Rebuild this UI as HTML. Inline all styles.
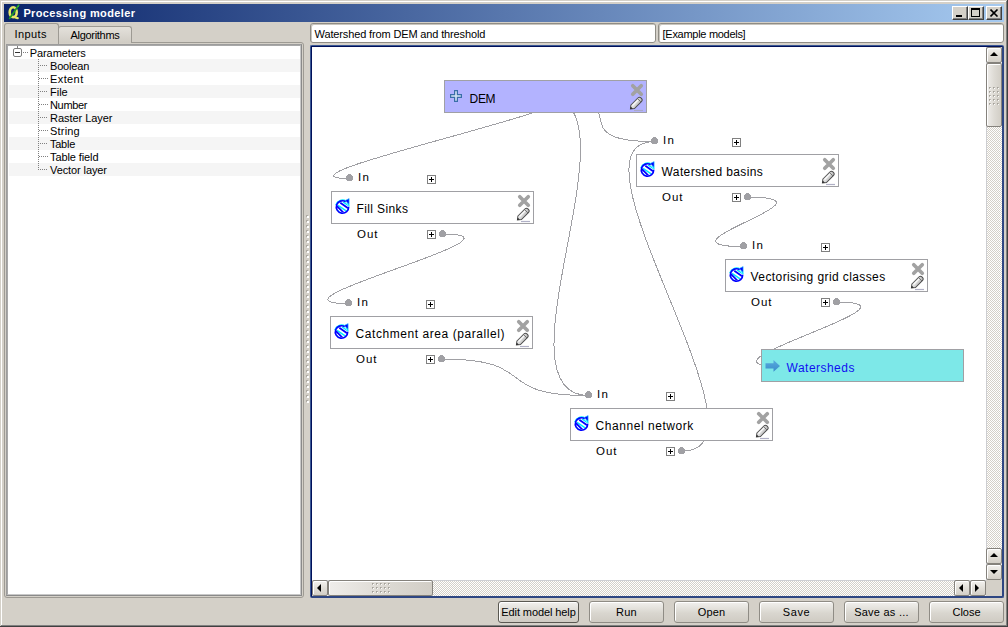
<!DOCTYPE html>
<html><head><meta charset="utf-8"><title>Processing modeler</title>
<style>
*{margin:0;padding:0;box-sizing:border-box}
html,body{width:1008px;height:627px;overflow:hidden}
body{background:#D4D0C8;font:11px "Liberation Sans",sans-serif;color:#000;position:relative}
.a{position:absolute}
.t{position:absolute;white-space:pre;line-height:13px}
.cb{position:absolute;width:16px;height:14px;background:#D4D0C8;border-top:1px solid #fff;border-left:1px solid #fff;border-right:1px solid #404040;border-bottom:1px solid #404040;box-shadow:inset -1px -1px 0 #808080}
.btn{position:absolute;top:601px;height:22px;width:75px;border:1px solid #8f8c85;border-radius:3px;background:linear-gradient(#f2f1ee,#d9d6cf 55%,#cfcbc3);box-shadow:inset 1px 1px 0 #fff;text-align:center;line-height:20px}
.row{position:absolute;left:9px;width:291px;height:13px}
.alt{background:#F5F5F5}
.chk{background:repeating-conic-gradient(#D4D0C8 0 25%,#fff 0 50%) 0 0/2px 2px}
.sb{position:absolute;width:16px;height:16px;border:1px solid #85827c;border-radius:2px;background:linear-gradient(#f3f2ef,#e2dfd9 50%,#d3cfc7);box-shadow:inset 1px 1px 0 #fff}
.sl{background:linear-gradient(to right,#efedea,#dedbd5 50%,#d2cec6)}
.tri{position:absolute;width:0;height:0;border:solid transparent}
.tri.up{left:3px;top:4px;border-width:0 4px 4px;border-bottom-color:#000}
.tri.dn{left:3px;top:5px;border-width:4px 4px 0;border-top-color:#000}
.tri.lf{left:4px;top:3px;border-width:4px 4px 4px 0;border-right-color:#000}
.tri.rt{left:4px;top:3px;border-width:4px 0 4px 4px;border-left-color:#000}
.grip{position:absolute;background:radial-gradient(circle at 0.5px 0.5px,#9a978f 0.7px,transparent 0.8px) 0 0/2px 2px}
</style></head><body>
<!-- window frame -->
<div class="a" style="left:1px;top:1px;width:1005px;height:1px;background:#fff"></div>
<div class="a" style="left:1px;top:1px;width:1px;height:624px;background:#fff"></div>
<div class="a" style="left:1006px;top:1px;width:1px;height:625px;background:#808080"></div>
<div class="a" style="left:1px;top:625px;width:1006px;height:1px;background:#808080"></div>
<div class="a" style="left:1007px;top:0;width:1px;height:627px;background:#404040"></div>
<div class="a" style="left:0;top:626px;width:1008px;height:1px;background:#404040"></div>
<!-- title bar -->
<div class="a" style="left:4px;top:4px;width:1000px;height:18px;background:linear-gradient(to right,#0A246A,#A6CAF0)"></div>
<svg class="a" style="left:0;top:0" width="24" height="22" viewBox="0 0 24 22">
  <ellipse cx="13.2" cy="12.2" rx="3.5" ry="4.9" fill="none" stroke="#E6E868" stroke-width="2.6"/>
  <path d="M13.8 16.4 Q15.5 18.6 18.6 18" fill="none" stroke="#E6E868" stroke-width="2"/>
  <path d="M18.6 5.2 L9.6 18.4" stroke="#1F9B23" stroke-width="1.7" stroke-linecap="round"/>
  <path d="M18.8 5.6 L17.6 7.2" stroke="#4CCB4C" stroke-width="1"/>
</svg>
<div class="t" style="left:23.4px;top:7px;color:#fff;font-weight:bold;font-size:11px;letter-spacing:0.38px">Processing modeler</div>
<!-- caption buttons -->
<div class="cb" style="left:952px;top:6px"><div class="a" style="left:3px;top:8px;width:6px;height:2px;background:#000"></div></div>
<div class="cb" style="left:968px;top:6px"><div class="a" style="left:2px;top:1px;width:9px;height:9px;border:1px solid #000;border-top-width:2px"></div></div>
<div class="cb" style="left:986px;top:6px">
  <svg class="a" style="left:3px;top:2px" width="9" height="8" viewBox="0 0 9 8"><path d="M0.5 0.5 L7.5 7.5 M7.5 0.5 L0.5 7.5" stroke="#000" stroke-width="1.6"/></svg>
</div>

<!-- tab widget -->
<div class="a" style="left:4px;top:42px;width:300px;height:556px;border:1px solid #9d9a93;border-radius:0 3px 3px 3px"></div>
<div class="a" style="left:58px;top:26px;width:74px;height:17px;border:1px solid #9d9a93;border-bottom:none;border-radius:3px 3px 0 0;background:linear-gradient(#e4e1db,#d0ccc4)"></div>
<div class="a" style="left:4px;top:23px;width:55px;height:21px;border:1px solid #9d9a93;border-bottom:none;border-radius:3px 3px 0 0;background:#D4D0C8"></div>
<div class="t" style="left:14.6px;top:28px;letter-spacing:0.4px">Inputs</div>
<div class="t" style="left:70.5px;top:29px;letter-spacing:-0.3px">Algorithms</div>
<!-- tree -->
<div class="a" style="left:6px;top:44px;width:296px;height:552px;border:1px solid #9c9c9c;border-right-color:#8a8a8a;border-bottom-color:#8a8a8a;background:#fff"></div>
<div class="a" style="left:7px;top:45px;width:294px;height:550px;border:1px solid #a8a8a8;border-right-color:#c8c8c8;border-bottom-color:#c8c8c8"></div>
<div class="row alt" style="top:59px"></div>
<div class="row alt" style="top:85px"></div>
<div class="row alt" style="top:111px"></div>
<div class="row alt" style="top:137px"></div>
<div class="row alt" style="top:163px"></div>
<!-- expander -->
<div class="a" style="left:13px;top:48px;width:9px;height:9px;border:1px solid #7b7b7b;border-radius:2px;background:#fff"></div>
<div class="a" style="left:15px;top:52px;width:5px;height:1px;background:#333"></div>
<div class="a" style="left:17px;top:46px;width:1px;height:2px;background:#7b7b7b"></div>
<svg class="a" style="left:0;top:0" width="60" height="180" viewBox="0 0 60 180" shape-rendering="crispEdges" fill="#808080"><rect x="17" y="46" width="1" height="1"/><rect x="17" y="47" width="1" height="1"/><rect x="23" y="52" width="1" height="1"/><rect x="25" y="52" width="1" height="1"/><rect x="27" y="52" width="1" height="1"/><rect x="38" y="59" width="1" height="1"/><rect x="38" y="61" width="1" height="1"/><rect x="38" y="63" width="1" height="1"/><rect x="38" y="65" width="1" height="1"/><rect x="38" y="67" width="1" height="1"/><rect x="38" y="69" width="1" height="1"/><rect x="38" y="71" width="1" height="1"/><rect x="38" y="73" width="1" height="1"/><rect x="38" y="75" width="1" height="1"/><rect x="38" y="77" width="1" height="1"/><rect x="38" y="79" width="1" height="1"/><rect x="38" y="81" width="1" height="1"/><rect x="38" y="83" width="1" height="1"/><rect x="38" y="85" width="1" height="1"/><rect x="38" y="87" width="1" height="1"/><rect x="38" y="89" width="1" height="1"/><rect x="38" y="91" width="1" height="1"/><rect x="38" y="93" width="1" height="1"/><rect x="38" y="95" width="1" height="1"/><rect x="38" y="97" width="1" height="1"/><rect x="38" y="99" width="1" height="1"/><rect x="38" y="101" width="1" height="1"/><rect x="38" y="103" width="1" height="1"/><rect x="38" y="105" width="1" height="1"/><rect x="38" y="107" width="1" height="1"/><rect x="38" y="109" width="1" height="1"/><rect x="38" y="111" width="1" height="1"/><rect x="38" y="113" width="1" height="1"/><rect x="38" y="115" width="1" height="1"/><rect x="38" y="117" width="1" height="1"/><rect x="38" y="119" width="1" height="1"/><rect x="38" y="121" width="1" height="1"/><rect x="38" y="123" width="1" height="1"/><rect x="38" y="125" width="1" height="1"/><rect x="38" y="127" width="1" height="1"/><rect x="38" y="129" width="1" height="1"/><rect x="38" y="131" width="1" height="1"/><rect x="38" y="133" width="1" height="1"/><rect x="38" y="135" width="1" height="1"/><rect x="38" y="137" width="1" height="1"/><rect x="38" y="139" width="1" height="1"/><rect x="38" y="141" width="1" height="1"/><rect x="38" y="143" width="1" height="1"/><rect x="38" y="145" width="1" height="1"/><rect x="38" y="147" width="1" height="1"/><rect x="38" y="149" width="1" height="1"/><rect x="38" y="151" width="1" height="1"/><rect x="38" y="153" width="1" height="1"/><rect x="38" y="155" width="1" height="1"/><rect x="38" y="157" width="1" height="1"/><rect x="38" y="159" width="1" height="1"/><rect x="38" y="161" width="1" height="1"/><rect x="38" y="163" width="1" height="1"/><rect x="38" y="165" width="1" height="1"/><rect x="38" y="167" width="1" height="1"/><rect x="38" y="169" width="1" height="1"/><rect x="40" y="65" width="1" height="1"/><rect x="42" y="65" width="1" height="1"/><rect x="44" y="65" width="1" height="1"/><rect x="46" y="65" width="1" height="1"/><rect x="39" y="78" width="1" height="1"/><rect x="41" y="78" width="1" height="1"/><rect x="43" y="78" width="1" height="1"/><rect x="45" y="78" width="1" height="1"/><rect x="47" y="78" width="1" height="1"/><rect x="40" y="91" width="1" height="1"/><rect x="42" y="91" width="1" height="1"/><rect x="44" y="91" width="1" height="1"/><rect x="46" y="91" width="1" height="1"/><rect x="39" y="104" width="1" height="1"/><rect x="41" y="104" width="1" height="1"/><rect x="43" y="104" width="1" height="1"/><rect x="45" y="104" width="1" height="1"/><rect x="47" y="104" width="1" height="1"/><rect x="40" y="117" width="1" height="1"/><rect x="42" y="117" width="1" height="1"/><rect x="44" y="117" width="1" height="1"/><rect x="46" y="117" width="1" height="1"/><rect x="39" y="130" width="1" height="1"/><rect x="41" y="130" width="1" height="1"/><rect x="43" y="130" width="1" height="1"/><rect x="45" y="130" width="1" height="1"/><rect x="47" y="130" width="1" height="1"/><rect x="40" y="143" width="1" height="1"/><rect x="42" y="143" width="1" height="1"/><rect x="44" y="143" width="1" height="1"/><rect x="46" y="143" width="1" height="1"/><rect x="39" y="156" width="1" height="1"/><rect x="41" y="156" width="1" height="1"/><rect x="43" y="156" width="1" height="1"/><rect x="45" y="156" width="1" height="1"/><rect x="47" y="156" width="1" height="1"/><rect x="40" y="169" width="1" height="1"/><rect x="42" y="169" width="1" height="1"/><rect x="44" y="169" width="1" height="1"/><rect x="46" y="169" width="1" height="1"/></svg>
<div class="t" style="left:29.8px;top:47px;letter-spacing:-0.1px">Parameters</div>
<div class="t" style="left:50px;top:60px;letter-spacing:-0.17px">Boolean</div>
<div class="t" style="left:50px;top:73px;letter-spacing:0.4px">Extent</div>
<div class="t" style="left:50px;top:86px;letter-spacing:0px">File</div>
<div class="t" style="left:50px;top:99px;letter-spacing:-0.34px">Number</div>
<div class="t" style="left:50px;top:112px;letter-spacing:-0.04px">Raster Layer</div>
<div class="t" style="left:50px;top:125px;letter-spacing:0.2px">String</div>
<div class="t" style="left:50px;top:138px;letter-spacing:-0.25px">Table</div>
<div class="t" style="left:50px;top:151px;letter-spacing:-0.1px">Table field</div>
<div class="t" style="left:50px;top:164px;letter-spacing:-0.1px">Vector layer</div>

<!-- splitter handle -->
<svg class="a" style="left:304px;top:210px" width="8" height="200" shape-rendering="crispEdges"><rect x="2" y="5" width="2" height="2" fill="#aeaba4"/><rect x="3" y="6" width="2" height="2" fill="#fff"/><rect x="2" y="10" width="2" height="2" fill="#aeaba4"/><rect x="3" y="11" width="2" height="2" fill="#fff"/><rect x="2" y="15" width="2" height="2" fill="#aeaba4"/><rect x="3" y="16" width="2" height="2" fill="#fff"/><rect x="2" y="20" width="2" height="2" fill="#aeaba4"/><rect x="3" y="21" width="2" height="2" fill="#fff"/><rect x="2" y="25" width="2" height="2" fill="#aeaba4"/><rect x="3" y="26" width="2" height="2" fill="#fff"/><rect x="2" y="30" width="2" height="2" fill="#aeaba4"/><rect x="3" y="31" width="2" height="2" fill="#fff"/><rect x="2" y="35" width="2" height="2" fill="#aeaba4"/><rect x="3" y="36" width="2" height="2" fill="#fff"/><rect x="2" y="40" width="2" height="2" fill="#aeaba4"/><rect x="3" y="41" width="2" height="2" fill="#fff"/><rect x="2" y="45" width="2" height="2" fill="#aeaba4"/><rect x="3" y="46" width="2" height="2" fill="#fff"/><rect x="2" y="50" width="2" height="2" fill="#aeaba4"/><rect x="3" y="51" width="2" height="2" fill="#fff"/><rect x="2" y="55" width="2" height="2" fill="#aeaba4"/><rect x="3" y="56" width="2" height="2" fill="#fff"/><rect x="2" y="60" width="2" height="2" fill="#aeaba4"/><rect x="3" y="61" width="2" height="2" fill="#fff"/><rect x="2" y="65" width="2" height="2" fill="#aeaba4"/><rect x="3" y="66" width="2" height="2" fill="#fff"/><rect x="2" y="70" width="2" height="2" fill="#aeaba4"/><rect x="3" y="71" width="2" height="2" fill="#fff"/><rect x="2" y="75" width="2" height="2" fill="#aeaba4"/><rect x="3" y="76" width="2" height="2" fill="#fff"/><rect x="2" y="80" width="2" height="2" fill="#aeaba4"/><rect x="3" y="81" width="2" height="2" fill="#fff"/><rect x="2" y="85" width="2" height="2" fill="#aeaba4"/><rect x="3" y="86" width="2" height="2" fill="#fff"/><rect x="2" y="90" width="2" height="2" fill="#aeaba4"/><rect x="3" y="91" width="2" height="2" fill="#fff"/><rect x="2" y="95" width="2" height="2" fill="#aeaba4"/><rect x="3" y="96" width="2" height="2" fill="#fff"/><rect x="2" y="100" width="2" height="2" fill="#aeaba4"/><rect x="3" y="101" width="2" height="2" fill="#fff"/><rect x="2" y="105" width="2" height="2" fill="#aeaba4"/><rect x="3" y="106" width="2" height="2" fill="#fff"/><rect x="2" y="110" width="2" height="2" fill="#aeaba4"/><rect x="3" y="111" width="2" height="2" fill="#fff"/><rect x="2" y="115" width="2" height="2" fill="#aeaba4"/><rect x="3" y="116" width="2" height="2" fill="#fff"/><rect x="2" y="120" width="2" height="2" fill="#aeaba4"/><rect x="3" y="121" width="2" height="2" fill="#fff"/><rect x="2" y="125" width="2" height="2" fill="#aeaba4"/><rect x="3" y="126" width="2" height="2" fill="#fff"/><rect x="2" y="130" width="2" height="2" fill="#aeaba4"/><rect x="3" y="131" width="2" height="2" fill="#fff"/><rect x="2" y="135" width="2" height="2" fill="#aeaba4"/><rect x="3" y="136" width="2" height="2" fill="#fff"/><rect x="2" y="140" width="2" height="2" fill="#aeaba4"/><rect x="3" y="141" width="2" height="2" fill="#fff"/><rect x="2" y="145" width="2" height="2" fill="#aeaba4"/><rect x="3" y="146" width="2" height="2" fill="#fff"/><rect x="2" y="150" width="2" height="2" fill="#aeaba4"/><rect x="3" y="151" width="2" height="2" fill="#fff"/><rect x="2" y="155" width="2" height="2" fill="#aeaba4"/><rect x="3" y="156" width="2" height="2" fill="#fff"/><rect x="2" y="160" width="2" height="2" fill="#aeaba4"/><rect x="3" y="161" width="2" height="2" fill="#fff"/><rect x="2" y="165" width="2" height="2" fill="#aeaba4"/><rect x="3" y="166" width="2" height="2" fill="#fff"/><rect x="2" y="170" width="2" height="2" fill="#aeaba4"/><rect x="3" y="171" width="2" height="2" fill="#fff"/><rect x="2" y="175" width="2" height="2" fill="#aeaba4"/><rect x="3" y="176" width="2" height="2" fill="#fff"/><rect x="2" y="180" width="2" height="2" fill="#aeaba4"/><rect x="3" y="181" width="2" height="2" fill="#fff"/><rect x="2" y="185" width="2" height="2" fill="#aeaba4"/><rect x="3" y="186" width="2" height="2" fill="#fff"/><rect x="2" y="190" width="2" height="2" fill="#aeaba4"/><rect x="3" y="191" width="2" height="2" fill="#fff"/></svg>

<!-- line edits -->
<div class="a" style="left:310px;top:23px;width:346px;height:20px;border:1px solid #8f8c85;border-radius:3px;background:#fff;box-shadow:inset 1px 1px 0 #c8c5be"></div>
<div class="t" style="left:314.6px;top:28px;letter-spacing:-0.14px">Watershed from DEM and threshold</div>
<div class="a" style="left:658px;top:23px;width:346px;height:20px;border:1px solid #8f8c85;border-radius:3px;background:#fff;box-shadow:inset 1px 1px 0 #c8c5be"></div>
<div class="t" style="left:662.6px;top:28px;letter-spacing:-0.29px">[Example models]</div>

<!-- canvas frame -->
<div class="a" style="left:310px;top:45px;width:694px;height:553px;border:1px solid #3A5794;border-right-color:#2E4682;border-bottom-color:#2E4682;border-radius:2px;background:#fff"></div>
<div class="a" style="left:311px;top:46px;width:692px;height:551px;border:1px solid #00105A;border-right-color:#2E4682;border-bottom-color:#2E4682"></div>
<svg class="a" style="left:0;top:0" width="1008" height="627" viewBox="0 0 1008 627">
<defs><clipPath id="vp"><rect x="312" y="47" width="674" height="533"/></clipPath><linearGradient id="pg" x1="0" y1="0" x2="1" y2="1"><stop offset="0" stop-color="#f4f4f4"/><stop offset="1" stop-color="#b8b8b8"/></linearGradient><linearGradient id="ag" x1="0" y1="0" x2="0" y2="1"><stop offset="0" stop-color="#58acde"/><stop offset="1" stop-color="#3a8ccb"/></linearGradient></defs>
<clipPath id="ic335_199"><circle cx="342.5" cy="207" r="5.6"/></clipPath>
<clipPath id="ic640_162"><circle cx="647.5" cy="170" r="5.6"/></clipPath>
<clipPath id="ic729_267"><circle cx="736.5" cy="275" r="5.6"/></clipPath>
<clipPath id="ic334_324"><circle cx="341.5" cy="332" r="5.6"/></clipPath>
<clipPath id="ic574_416"><circle cx="581.5" cy="424" r="5.6"/></clipPath>
<g clip-path="url(#vp)">
<g fill="none" stroke="#A0A0A4" stroke-width="1" shape-rendering="crispEdges" transform="translate(0.5 0.6)">
<path d="M545 96C645 96 249.5 178 349.5 178"/>
<path d="M545 96C645 96 554.5 141 654.5 141"/>
<path d="M545 96C645 96 488.5 395 588.5 395"/>
<path d="M442.5 233.5C542.5 233.5 248.5 303 348.5 303"/>
<path d="M441.5 358.5C541.5 358.5 488.5 395 588.5 395"/>
<path d="M681.5 450.5C781.5 450.5 554.5 141 654.5 141"/>
<path d="M747.5 196.5C847.5 196.5 643.5 246 743.5 246"/>
<path d="M836.5 301.5C936.5 301.5 679.5 365.5 779.5 365.5"/>
</g>
<rect x="444.5" y="80.5" width="202" height="32" fill="#B3B3FF" stroke="#A0A0A4" shape-rendering="crispEdges"/>
<path d="M454.6 90.6h2.8v4h4v2.8h-4v4h-2.8v-4h-4v-2.8h4z" fill="#d4e4f4" stroke="#3a6ea8" stroke-width="1.2"/>
<text x="469.6" y="103" font-size="12" textLength="26" lengthAdjust="spacing">DEM</text>
<path d="M632.75 85.75L641.25 94.25M641.25 85.75L632.75 94.25" stroke="#a2a2a2" stroke-width="3.7" stroke-linecap="round"/>
<path d="M634 110.5L643 110.5" stroke="#a8a8c0" stroke-width="1.2" opacity="0.9"/><g transform="translate(630.4 109) rotate(-45)"><path d="M3.2 -2.5 L13.4 -2.5 Q15.3 -2.5 15.3 0 Q15.3 2.5 13.4 2.5 L3.2 2.5 L0 0 Z" fill="url(#pg)" stroke="#4a4a4a" stroke-width="0.95"/><path d="M12.4 -2.4 L12.4 2.4" stroke="#666" stroke-width="0.9"/><path d="M4 -0.9 L12 -0.9" stroke="#fff" stroke-width="1"/><path d="M0 0 L2 -1.3 L2 1.3 Z" fill="#222"/></g>
<rect x="331.5" y="191.5" width="202" height="32" fill="#fff" stroke="#A0A0A4" shape-rendering="crispEdges"/>
<g><circle cx="342.5" cy="207" r="6.3" fill="#fff"/><g clip-path="url(#ic335_199)"><path d="M338 205.4 L348 212.2 M335.5 208.4 L342.5 215.4 M343 201.8 L349 205.8" stroke="#00ecff" stroke-width="1.5"/><path d="M340.3 202.8 L349.5 209.2" stroke="#0000ff" stroke-width="1.7"/><path d="M336 205.2 L344.7 213.9" stroke="#0000ff" stroke-width="1.7"/></g><path d="M335.64 205.16 A7.1 7.1 0 0 1 346.05 200.85" fill="none" stroke="#00ecff" stroke-width="1.1"/><path d="M347.56 202.76 A6.6 6.6 0 0 1 349.07 206.42" fill="none" stroke="#00ecff" stroke-width="1.3"/><path d="M348.69 206.68 A6.2 6.2 0 1 1 345.79 201.74" fill="none" stroke="#0000ff" stroke-width="1.6"/><path d="M345.1 200.6 L349.1 198.6 L349.1 204.4 Z" fill="#0000ff" stroke="#20d0ff" stroke-width="0.6"/></g>
<text x="356.6" y="213" font-size="12" textLength="51.3" lengthAdjust="spacing">Fill Sinks</text>
<path d="M519.75 196.75L528.25 205.25M528.25 196.75L519.75 205.25" stroke="#a2a2a2" stroke-width="3.7" stroke-linecap="round"/>
<path d="M521 221.5L530 221.5" stroke="#a8a8c0" stroke-width="1.2" opacity="0.9"/><g transform="translate(517.4 220) rotate(-45)"><path d="M3.2 -2.5 L13.4 -2.5 Q15.3 -2.5 15.3 0 Q15.3 2.5 13.4 2.5 L3.2 2.5 L0 0 Z" fill="url(#pg)" stroke="#4a4a4a" stroke-width="0.95"/><path d="M12.4 -2.4 L12.4 2.4" stroke="#666" stroke-width="0.9"/><path d="M4 -0.9 L12 -0.9" stroke="#fff" stroke-width="1"/><path d="M0 0 L2 -1.3 L2 1.3 Z" fill="#222"/></g>
<text x="358" y="181" font-size="11.5" textLength="11" lengthAdjust="spacing">In</text>
<text x="357" y="238" font-size="11.5" textLength="20.5" lengthAdjust="spacing">Out</text>
<rect x="427.5" y="175.5" width="8" height="8" fill="#fff" stroke="#808080" shape-rendering="crispEdges"/>
<rect x="429" y="179" width="5" height="1" fill="#000"/><rect x="431" y="177" width="1" height="5" fill="#000"/>
<rect x="427.5" y="230.5" width="8" height="8" fill="#fff" stroke="#808080" shape-rendering="crispEdges"/>
<rect x="429" y="234" width="5" height="1" fill="#000"/><rect x="431" y="232" width="1" height="5" fill="#000"/>
<circle cx="349.5" cy="177.5" r="3.5" fill="#A0A0A4" shape-rendering="crispEdges"/>
<circle cx="442.5" cy="233.5" r="3.5" fill="#A0A0A4" shape-rendering="crispEdges"/>
<rect x="636.5" y="154.5" width="202" height="32" fill="#fff" stroke="#A0A0A4" shape-rendering="crispEdges"/>
<g><circle cx="647.5" cy="170" r="6.3" fill="#fff"/><g clip-path="url(#ic640_162)"><path d="M643 168.4 L653 175.2 M640.5 171.4 L647.5 178.4 M648 164.8 L654 168.8" stroke="#00ecff" stroke-width="1.5"/><path d="M645.3 165.8 L654.5 172.2" stroke="#0000ff" stroke-width="1.7"/><path d="M641 168.2 L649.7 176.9" stroke="#0000ff" stroke-width="1.7"/></g><path d="M640.64 168.16 A7.1 7.1 0 0 1 651.05 163.85" fill="none" stroke="#00ecff" stroke-width="1.1"/><path d="M652.56 165.76 A6.6 6.6 0 0 1 654.07 169.42" fill="none" stroke="#00ecff" stroke-width="1.3"/><path d="M653.69 169.68 A6.2 6.2 0 1 1 650.79 164.74" fill="none" stroke="#0000ff" stroke-width="1.6"/><path d="M650.1 163.6 L654.1 161.6 L654.1 167.4 Z" fill="#0000ff" stroke="#20d0ff" stroke-width="0.6"/></g>
<text x="661.6" y="176" font-size="12" textLength="101.2" lengthAdjust="spacing">Watershed basins</text>
<path d="M824.75 159.75L833.25 168.25M833.25 159.75L824.75 168.25" stroke="#a2a2a2" stroke-width="3.7" stroke-linecap="round"/>
<path d="M826 184.5L835 184.5" stroke="#a8a8c0" stroke-width="1.2" opacity="0.9"/><g transform="translate(822.4 183) rotate(-45)"><path d="M3.2 -2.5 L13.4 -2.5 Q15.3 -2.5 15.3 0 Q15.3 2.5 13.4 2.5 L3.2 2.5 L0 0 Z" fill="url(#pg)" stroke="#4a4a4a" stroke-width="0.95"/><path d="M12.4 -2.4 L12.4 2.4" stroke="#666" stroke-width="0.9"/><path d="M4 -0.9 L12 -0.9" stroke="#fff" stroke-width="1"/><path d="M0 0 L2 -1.3 L2 1.3 Z" fill="#222"/></g>
<text x="663" y="144" font-size="11.5" textLength="11" lengthAdjust="spacing">In</text>
<text x="662" y="201" font-size="11.5" textLength="20.5" lengthAdjust="spacing">Out</text>
<rect x="732.5" y="138.5" width="8" height="8" fill="#fff" stroke="#808080" shape-rendering="crispEdges"/>
<rect x="734" y="142" width="5" height="1" fill="#000"/><rect x="736" y="140" width="1" height="5" fill="#000"/>
<rect x="732.5" y="193.5" width="8" height="8" fill="#fff" stroke="#808080" shape-rendering="crispEdges"/>
<rect x="734" y="197" width="5" height="1" fill="#000"/><rect x="736" y="195" width="1" height="5" fill="#000"/>
<circle cx="654.5" cy="140.5" r="3.5" fill="#A0A0A4" shape-rendering="crispEdges"/>
<circle cx="747.5" cy="196.5" r="3.5" fill="#A0A0A4" shape-rendering="crispEdges"/>
<rect x="725.5" y="259.5" width="202" height="32" fill="#fff" stroke="#A0A0A4" shape-rendering="crispEdges"/>
<g><circle cx="736.5" cy="275" r="6.3" fill="#fff"/><g clip-path="url(#ic729_267)"><path d="M732 273.4 L742 280.2 M729.5 276.4 L736.5 283.4 M737 269.8 L743 273.8" stroke="#00ecff" stroke-width="1.5"/><path d="M734.3 270.8 L743.5 277.2" stroke="#0000ff" stroke-width="1.7"/><path d="M730 273.2 L738.7 281.9" stroke="#0000ff" stroke-width="1.7"/></g><path d="M729.64 273.16 A7.1 7.1 0 0 1 740.05 268.85" fill="none" stroke="#00ecff" stroke-width="1.1"/><path d="M741.56 270.76 A6.6 6.6 0 0 1 743.07 274.42" fill="none" stroke="#00ecff" stroke-width="1.3"/><path d="M742.69 274.68 A6.2 6.2 0 1 1 739.79 269.74" fill="none" stroke="#0000ff" stroke-width="1.6"/><path d="M739.1 268.6 L743.1 266.6 L743.1 272.4 Z" fill="#0000ff" stroke="#20d0ff" stroke-width="0.6"/></g>
<text x="750.6" y="281" font-size="12" textLength="134.6" lengthAdjust="spacing">Vectorising grid classes</text>
<path d="M913.75 264.75L922.25 273.25M922.25 264.75L913.75 273.25" stroke="#a2a2a2" stroke-width="3.7" stroke-linecap="round"/>
<path d="M915 289.5L924 289.5" stroke="#a8a8c0" stroke-width="1.2" opacity="0.9"/><g transform="translate(911.4 288) rotate(-45)"><path d="M3.2 -2.5 L13.4 -2.5 Q15.3 -2.5 15.3 0 Q15.3 2.5 13.4 2.5 L3.2 2.5 L0 0 Z" fill="url(#pg)" stroke="#4a4a4a" stroke-width="0.95"/><path d="M12.4 -2.4 L12.4 2.4" stroke="#666" stroke-width="0.9"/><path d="M4 -0.9 L12 -0.9" stroke="#fff" stroke-width="1"/><path d="M0 0 L2 -1.3 L2 1.3 Z" fill="#222"/></g>
<text x="752" y="249" font-size="11.5" textLength="11" lengthAdjust="spacing">In</text>
<text x="751" y="306" font-size="11.5" textLength="20.5" lengthAdjust="spacing">Out</text>
<rect x="821.5" y="243.5" width="8" height="8" fill="#fff" stroke="#808080" shape-rendering="crispEdges"/>
<rect x="823" y="247" width="5" height="1" fill="#000"/><rect x="825" y="245" width="1" height="5" fill="#000"/>
<rect x="821.5" y="298.5" width="8" height="8" fill="#fff" stroke="#808080" shape-rendering="crispEdges"/>
<rect x="823" y="302" width="5" height="1" fill="#000"/><rect x="825" y="300" width="1" height="5" fill="#000"/>
<circle cx="743.5" cy="245.5" r="3.5" fill="#A0A0A4" shape-rendering="crispEdges"/>
<circle cx="836.5" cy="301.5" r="3.5" fill="#A0A0A4" shape-rendering="crispEdges"/>
<rect x="330.5" y="316.5" width="202" height="32" fill="#fff" stroke="#A0A0A4" shape-rendering="crispEdges"/>
<g><circle cx="341.5" cy="332" r="6.3" fill="#fff"/><g clip-path="url(#ic334_324)"><path d="M337 330.4 L347 337.2 M334.5 333.4 L341.5 340.4 M342 326.8 L348 330.8" stroke="#00ecff" stroke-width="1.5"/><path d="M339.3 327.8 L348.5 334.2" stroke="#0000ff" stroke-width="1.7"/><path d="M335 330.2 L343.7 338.9" stroke="#0000ff" stroke-width="1.7"/></g><path d="M334.64 330.16 A7.1 7.1 0 0 1 345.05 325.85" fill="none" stroke="#00ecff" stroke-width="1.1"/><path d="M346.56 327.76 A6.6 6.6 0 0 1 348.07 331.42" fill="none" stroke="#00ecff" stroke-width="1.3"/><path d="M347.69 331.68 A6.2 6.2 0 1 1 344.79 326.74" fill="none" stroke="#0000ff" stroke-width="1.6"/><path d="M344.1 325.6 L348.1 323.6 L348.1 329.4 Z" fill="#0000ff" stroke="#20d0ff" stroke-width="0.6"/></g>
<text x="355.6" y="338" font-size="12" textLength="148.8" lengthAdjust="spacing">Catchment area (parallel)</text>
<path d="M518.75 321.75L527.25 330.25M527.25 321.75L518.75 330.25" stroke="#a2a2a2" stroke-width="3.7" stroke-linecap="round"/>
<path d="M520 346.5L529 346.5" stroke="#a8a8c0" stroke-width="1.2" opacity="0.9"/><g transform="translate(516.4 345) rotate(-45)"><path d="M3.2 -2.5 L13.4 -2.5 Q15.3 -2.5 15.3 0 Q15.3 2.5 13.4 2.5 L3.2 2.5 L0 0 Z" fill="url(#pg)" stroke="#4a4a4a" stroke-width="0.95"/><path d="M12.4 -2.4 L12.4 2.4" stroke="#666" stroke-width="0.9"/><path d="M4 -0.9 L12 -0.9" stroke="#fff" stroke-width="1"/><path d="M0 0 L2 -1.3 L2 1.3 Z" fill="#222"/></g>
<text x="357" y="306" font-size="11.5" textLength="11" lengthAdjust="spacing">In</text>
<text x="356" y="363" font-size="11.5" textLength="20.5" lengthAdjust="spacing">Out</text>
<rect x="426.5" y="300.5" width="8" height="8" fill="#fff" stroke="#808080" shape-rendering="crispEdges"/>
<rect x="428" y="304" width="5" height="1" fill="#000"/><rect x="430" y="302" width="1" height="5" fill="#000"/>
<rect x="426.5" y="355.5" width="8" height="8" fill="#fff" stroke="#808080" shape-rendering="crispEdges"/>
<rect x="428" y="359" width="5" height="1" fill="#000"/><rect x="430" y="357" width="1" height="5" fill="#000"/>
<circle cx="348.5" cy="302.5" r="3.5" fill="#A0A0A4" shape-rendering="crispEdges"/>
<circle cx="441.5" cy="358.5" r="3.5" fill="#A0A0A4" shape-rendering="crispEdges"/>
<rect x="570.5" y="408.5" width="202" height="32" fill="#fff" stroke="#A0A0A4" shape-rendering="crispEdges"/>
<g><circle cx="581.5" cy="424" r="6.3" fill="#fff"/><g clip-path="url(#ic574_416)"><path d="M577 422.4 L587 429.2 M574.5 425.4 L581.5 432.4 M582 418.8 L588 422.8" stroke="#00ecff" stroke-width="1.5"/><path d="M579.3 419.8 L588.5 426.2" stroke="#0000ff" stroke-width="1.7"/><path d="M575 422.2 L583.7 430.9" stroke="#0000ff" stroke-width="1.7"/></g><path d="M574.64 422.16 A7.1 7.1 0 0 1 585.05 417.85" fill="none" stroke="#00ecff" stroke-width="1.1"/><path d="M586.56 419.76 A6.6 6.6 0 0 1 588.07 423.42" fill="none" stroke="#00ecff" stroke-width="1.3"/><path d="M587.69 423.68 A6.2 6.2 0 1 1 584.79 418.74" fill="none" stroke="#0000ff" stroke-width="1.6"/><path d="M584.1 417.6 L588.1 415.6 L588.1 421.4 Z" fill="#0000ff" stroke="#20d0ff" stroke-width="0.6"/></g>
<text x="595.6" y="430" font-size="12" textLength="97.6" lengthAdjust="spacing">Channel network</text>
<path d="M758.75 413.75L767.25 422.25M767.25 413.75L758.75 422.25" stroke="#a2a2a2" stroke-width="3.7" stroke-linecap="round"/>
<path d="M760 438.5L769 438.5" stroke="#a8a8c0" stroke-width="1.2" opacity="0.9"/><g transform="translate(756.4 437) rotate(-45)"><path d="M3.2 -2.5 L13.4 -2.5 Q15.3 -2.5 15.3 0 Q15.3 2.5 13.4 2.5 L3.2 2.5 L0 0 Z" fill="url(#pg)" stroke="#4a4a4a" stroke-width="0.95"/><path d="M12.4 -2.4 L12.4 2.4" stroke="#666" stroke-width="0.9"/><path d="M4 -0.9 L12 -0.9" stroke="#fff" stroke-width="1"/><path d="M0 0 L2 -1.3 L2 1.3 Z" fill="#222"/></g>
<text x="597" y="398" font-size="11.5" textLength="11" lengthAdjust="spacing">In</text>
<text x="596" y="455" font-size="11.5" textLength="20.5" lengthAdjust="spacing">Out</text>
<rect x="666.5" y="392.5" width="8" height="8" fill="#fff" stroke="#808080" shape-rendering="crispEdges"/>
<rect x="668" y="396" width="5" height="1" fill="#000"/><rect x="670" y="394" width="1" height="5" fill="#000"/>
<rect x="666.5" y="447.5" width="8" height="8" fill="#fff" stroke="#808080" shape-rendering="crispEdges"/>
<rect x="668" y="451" width="5" height="1" fill="#000"/><rect x="670" y="449" width="1" height="5" fill="#000"/>
<circle cx="588.5" cy="394.5" r="3.5" fill="#A0A0A4" shape-rendering="crispEdges"/>
<circle cx="681.5" cy="450.5" r="3.5" fill="#A0A0A4" shape-rendering="crispEdges"/>
<rect x="761.5" y="349.5" width="202" height="32" fill="#7DE8E8" stroke="#A0A0A4" shape-rendering="crispEdges"/>
<path d="M765.5 363.2h8v-3.2l6.5 5.9l-6.5 5.9v-3.2h-8z" fill="url(#ag)"/>
<text x="786.6" y="372" font-size="12" fill="#1010f0" textLength="67.8" lengthAdjust="spacing">Watersheds</text>
</g></svg>
<!-- scrollbars -->
<div class="a chk" style="left:986px;top:47px;width:16px;height:533px"></div>
<div class="a chk" style="left:312px;top:580px;width:674px;height:16px"></div>
<div class="a" style="left:986px;top:580px;width:16px;height:16px;background:#D4D0C8"></div>
<div class="a" style="left:312px;top:580px;width:674px;height:1px;background:#cdced2"></div>
<div class="a" style="left:986px;top:47px;width:1px;height:533px;background:#cdced2"></div>
<div class="sb" style="left:986px;top:47px"><div class="tri up"></div></div>
<div class="sb" style="left:986px;top:548px"><div class="tri up"></div></div>
<div class="sb" style="left:986px;top:564px"><div class="tri dn"></div></div>
<div class="sb" style="left:312px;top:580px"><div class="tri lf"></div></div>
<div class="sb" style="left:954px;top:580px"><div class="tri lf"></div></div>
<div class="sb" style="left:970px;top:580px"><div class="tri rt"></div></div>
<div class="sb sl" style="left:986px;top:63px;height:64px"><svg class="a" style="left:2px;top:23px" width="12" height="20" shape-rendering="crispEdges"><rect x="1" y="1" width="1" height="1" fill="#fff"/><rect x="0" y="0" width="1" height="1" fill="#a19e97"/><rect x="1" y="0" width="1" height="1" fill="#b8b5ae"/><rect x="0" y="1" width="1" height="1" fill="#b8b5ae"/><rect x="1" y="5" width="1" height="1" fill="#fff"/><rect x="0" y="4" width="1" height="1" fill="#a19e97"/><rect x="1" y="4" width="1" height="1" fill="#b8b5ae"/><rect x="0" y="5" width="1" height="1" fill="#b8b5ae"/><rect x="1" y="9" width="1" height="1" fill="#fff"/><rect x="0" y="8" width="1" height="1" fill="#a19e97"/><rect x="1" y="8" width="1" height="1" fill="#b8b5ae"/><rect x="0" y="9" width="1" height="1" fill="#b8b5ae"/><rect x="1" y="13" width="1" height="1" fill="#fff"/><rect x="0" y="12" width="1" height="1" fill="#a19e97"/><rect x="1" y="12" width="1" height="1" fill="#b8b5ae"/><rect x="0" y="13" width="1" height="1" fill="#b8b5ae"/><rect x="1" y="17" width="1" height="1" fill="#fff"/><rect x="0" y="16" width="1" height="1" fill="#a19e97"/><rect x="1" y="16" width="1" height="1" fill="#b8b5ae"/><rect x="0" y="17" width="1" height="1" fill="#b8b5ae"/><rect x="5" y="1" width="1" height="1" fill="#fff"/><rect x="4" y="0" width="1" height="1" fill="#a19e97"/><rect x="5" y="0" width="1" height="1" fill="#b8b5ae"/><rect x="4" y="1" width="1" height="1" fill="#b8b5ae"/><rect x="5" y="5" width="1" height="1" fill="#fff"/><rect x="4" y="4" width="1" height="1" fill="#a19e97"/><rect x="5" y="4" width="1" height="1" fill="#b8b5ae"/><rect x="4" y="5" width="1" height="1" fill="#b8b5ae"/><rect x="5" y="9" width="1" height="1" fill="#fff"/><rect x="4" y="8" width="1" height="1" fill="#a19e97"/><rect x="5" y="8" width="1" height="1" fill="#b8b5ae"/><rect x="4" y="9" width="1" height="1" fill="#b8b5ae"/><rect x="5" y="13" width="1" height="1" fill="#fff"/><rect x="4" y="12" width="1" height="1" fill="#a19e97"/><rect x="5" y="12" width="1" height="1" fill="#b8b5ae"/><rect x="4" y="13" width="1" height="1" fill="#b8b5ae"/><rect x="5" y="17" width="1" height="1" fill="#fff"/><rect x="4" y="16" width="1" height="1" fill="#a19e97"/><rect x="5" y="16" width="1" height="1" fill="#b8b5ae"/><rect x="4" y="17" width="1" height="1" fill="#b8b5ae"/><rect x="9" y="1" width="1" height="1" fill="#fff"/><rect x="8" y="0" width="1" height="1" fill="#a19e97"/><rect x="9" y="0" width="1" height="1" fill="#b8b5ae"/><rect x="8" y="1" width="1" height="1" fill="#b8b5ae"/><rect x="9" y="5" width="1" height="1" fill="#fff"/><rect x="8" y="4" width="1" height="1" fill="#a19e97"/><rect x="9" y="4" width="1" height="1" fill="#b8b5ae"/><rect x="8" y="5" width="1" height="1" fill="#b8b5ae"/><rect x="9" y="9" width="1" height="1" fill="#fff"/><rect x="8" y="8" width="1" height="1" fill="#a19e97"/><rect x="9" y="8" width="1" height="1" fill="#b8b5ae"/><rect x="8" y="9" width="1" height="1" fill="#b8b5ae"/><rect x="9" y="13" width="1" height="1" fill="#fff"/><rect x="8" y="12" width="1" height="1" fill="#a19e97"/><rect x="9" y="12" width="1" height="1" fill="#b8b5ae"/><rect x="8" y="13" width="1" height="1" fill="#b8b5ae"/><rect x="9" y="17" width="1" height="1" fill="#fff"/><rect x="8" y="16" width="1" height="1" fill="#a19e97"/><rect x="9" y="16" width="1" height="1" fill="#b8b5ae"/><rect x="8" y="17" width="1" height="1" fill="#b8b5ae"/></svg></div>
<div class="sb sl" style="left:328px;top:580px;width:105px"><svg class="a" style="left:43px;top:2px" width="20" height="12" shape-rendering="crispEdges"><rect x="1" y="1" width="1" height="1" fill="#fff"/><rect x="0" y="0" width="1" height="1" fill="#a19e97"/><rect x="1" y="0" width="1" height="1" fill="#b8b5ae"/><rect x="0" y="1" width="1" height="1" fill="#b8b5ae"/><rect x="1" y="5" width="1" height="1" fill="#fff"/><rect x="0" y="4" width="1" height="1" fill="#a19e97"/><rect x="1" y="4" width="1" height="1" fill="#b8b5ae"/><rect x="0" y="5" width="1" height="1" fill="#b8b5ae"/><rect x="1" y="9" width="1" height="1" fill="#fff"/><rect x="0" y="8" width="1" height="1" fill="#a19e97"/><rect x="1" y="8" width="1" height="1" fill="#b8b5ae"/><rect x="0" y="9" width="1" height="1" fill="#b8b5ae"/><rect x="5" y="1" width="1" height="1" fill="#fff"/><rect x="4" y="0" width="1" height="1" fill="#a19e97"/><rect x="5" y="0" width="1" height="1" fill="#b8b5ae"/><rect x="4" y="1" width="1" height="1" fill="#b8b5ae"/><rect x="5" y="5" width="1" height="1" fill="#fff"/><rect x="4" y="4" width="1" height="1" fill="#a19e97"/><rect x="5" y="4" width="1" height="1" fill="#b8b5ae"/><rect x="4" y="5" width="1" height="1" fill="#b8b5ae"/><rect x="5" y="9" width="1" height="1" fill="#fff"/><rect x="4" y="8" width="1" height="1" fill="#a19e97"/><rect x="5" y="8" width="1" height="1" fill="#b8b5ae"/><rect x="4" y="9" width="1" height="1" fill="#b8b5ae"/><rect x="9" y="1" width="1" height="1" fill="#fff"/><rect x="8" y="0" width="1" height="1" fill="#a19e97"/><rect x="9" y="0" width="1" height="1" fill="#b8b5ae"/><rect x="8" y="1" width="1" height="1" fill="#b8b5ae"/><rect x="9" y="5" width="1" height="1" fill="#fff"/><rect x="8" y="4" width="1" height="1" fill="#a19e97"/><rect x="9" y="4" width="1" height="1" fill="#b8b5ae"/><rect x="8" y="5" width="1" height="1" fill="#b8b5ae"/><rect x="9" y="9" width="1" height="1" fill="#fff"/><rect x="8" y="8" width="1" height="1" fill="#a19e97"/><rect x="9" y="8" width="1" height="1" fill="#b8b5ae"/><rect x="8" y="9" width="1" height="1" fill="#b8b5ae"/><rect x="13" y="1" width="1" height="1" fill="#fff"/><rect x="12" y="0" width="1" height="1" fill="#a19e97"/><rect x="13" y="0" width="1" height="1" fill="#b8b5ae"/><rect x="12" y="1" width="1" height="1" fill="#b8b5ae"/><rect x="13" y="5" width="1" height="1" fill="#fff"/><rect x="12" y="4" width="1" height="1" fill="#a19e97"/><rect x="13" y="4" width="1" height="1" fill="#b8b5ae"/><rect x="12" y="5" width="1" height="1" fill="#b8b5ae"/><rect x="13" y="9" width="1" height="1" fill="#fff"/><rect x="12" y="8" width="1" height="1" fill="#a19e97"/><rect x="13" y="8" width="1" height="1" fill="#b8b5ae"/><rect x="12" y="9" width="1" height="1" fill="#b8b5ae"/><rect x="17" y="1" width="1" height="1" fill="#fff"/><rect x="16" y="0" width="1" height="1" fill="#a19e97"/><rect x="17" y="0" width="1" height="1" fill="#b8b5ae"/><rect x="16" y="1" width="1" height="1" fill="#b8b5ae"/><rect x="17" y="5" width="1" height="1" fill="#fff"/><rect x="16" y="4" width="1" height="1" fill="#a19e97"/><rect x="17" y="4" width="1" height="1" fill="#b8b5ae"/><rect x="16" y="5" width="1" height="1" fill="#b8b5ae"/><rect x="17" y="9" width="1" height="1" fill="#fff"/><rect x="16" y="8" width="1" height="1" fill="#a19e97"/><rect x="17" y="8" width="1" height="1" fill="#b8b5ae"/><rect x="16" y="9" width="1" height="1" fill="#b8b5ae"/></svg></div>

<!-- bottom buttons -->
<div class="btn" style="left:498px;width:81px;border-color:#5a5852;letter-spacing:-0.1px">Edit model help</div>
<div class="btn" style="left:589px;letter-spacing:0.3px">Run</div>
<div class="btn" style="left:674px;letter-spacing:0.2px">Open</div>
<div class="btn" style="left:759px;letter-spacing:0.6px">Save</div>
<div class="btn" style="left:844px;letter-spacing:0.25px">Save as ...</div>
<div class="btn" style="left:929px">Close</div>
</body></html>
